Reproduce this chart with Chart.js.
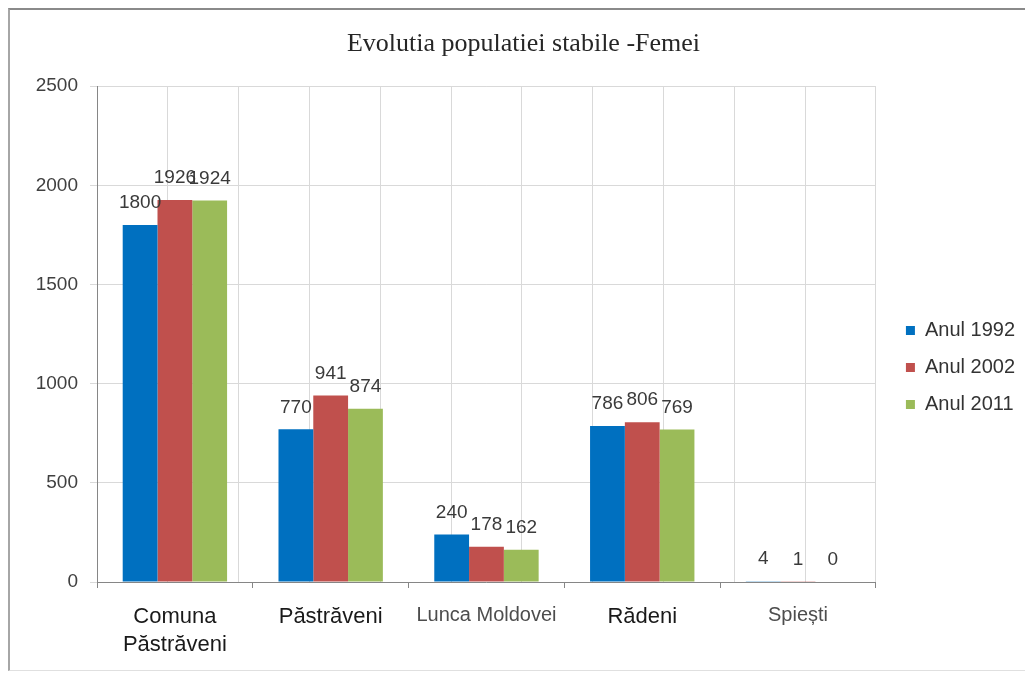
<!DOCTYPE html>
<html><head><meta charset="utf-8">
<script src="https://cdn.jsdelivr.net/npm/chart.js@4"></script>
<style>
html,body{margin:0;padding:0;background:#fff;width:1025px;height:673px;overflow:hidden}
#frame{position:absolute;left:8px;top:8px;width:1040px;height:660px;border-top:2px solid #8a8a8a;border-left:2px solid #a6a6a6;border-bottom:1px solid #e0e0e0}
canvas{position:absolute;left:0;top:0}
</style></head><body>
<div id="frame"></div>
<canvas id="c" width="1025" height="673"></canvas>
<script>
const categories = [["Comuna","Păstrăveni"],"Păstrăveni","Lunca Moldovei","Rădeni","Spiești"];
const seriesNames = ["Anul 1992","Anul 2002","Anul 2011"];
const values1992 = [1800,770,240,786,4];
const values2002 = [1926,941,178,806,1];
const values2011 = [1924,874,162,769,0];
const yTicks = [0,500,1000,1500,2000,2500];
const colors = ['#0070C0','#C0504D','#9BBB59'];

const valueLabels = {
  id:'valueLabels',
  afterDatasetsDraw(chart){
    const ctx = chart.ctx;
    ctx.save();
    ctx.font = '19px "Liberation Sans"';
    ctx.fillStyle = '#3a3a3a';
    ctx.textAlign = 'center';
    ctx.textBaseline = 'middle';
    chart.data.datasets.forEach((ds,i)=>{
      chart.getDatasetMeta(i).data.forEach((bar,j)=>{
        ctx.fillText(String(ds.data[j]), bar.x, bar.y - 22);
      });
    });
    ctx.restore();
  }
};
const legendShift = {
  id:'legendShift',
  afterLayout(chart){
    const l = chart.legend; const dx = 13, dy = 31;
    l.left += dx; l.right += dx; l.top += dy; l.bottom += dy;
  }
};

new Chart(document.getElementById('c'), {
  type:'bar',
  data:{
    labels: categories,
    datasets: [values1992, values2002, values2011].map((d,i)=>({
      label: seriesNames[i], data: d, backgroundColor: colors[i], borderWidth: 0,
      categoryPercentage: 0.67, barPercentage: 1
    }))
  },
  options:{
    responsive:false, animation:false,
    layout:{padding:{left:35,right:13,top:0,bottom:0}},
    plugins:{
      title:{display:true,text:'Evolutia populatiei stabile -Femei',color:'#262626',
        font:{family:'Liberation Serif',size:26,weight:'normal'},padding:{top:29,bottom:26}},
      legend:{position:'right',
        labels:{boxWidth:9,boxHeight:9,padding:17,color:'#333',font:{family:'Liberation Sans',size:20}}},
      tooltip:{enabled:false}
    },
    scales:{
      x:{position:'bottom',
        grid:{display:true,drawOnChartArea:false,offset:true,tickLength:6,color:'#868686'},
        border:{color:'#868686'},
        ticks:{padding:15,
          color: c => (c.index===2||c.index===4) ? '#4d4d4d' : '#1a1a1a',
          font: c => (c.index===2||c.index===4) ? {family:'Liberation Sans',size:20,lineHeight:1.28} : {family:'Liberation Sans',size:22,lineHeight:1.28}},
        afterFit(s){ s.height = 91; }
      },
      xg:{type:'linear',position:'bottom',min:0,max:10,
        ticks:{display:false,stepSize:1},
        grid:{color:'#d9d9d9',drawTicks:false},
        border:{display:false},
        afterFit(s){ s.height = 0; }
      },
      y:{min:0,max:2500,
        afterBuildTicks(s){ s.ticks = yTicks.map(v=>({value:v})); },
        grid:{color:'#d9d9d9',tickLength:7},
        border:{color:'#868686'},
        ticks:{padding:12,color:'#404040',font:{family:'Liberation Sans',size:19},
          callback: v => String(v)},
        afterFit(s){ s.width = 62; }
      }
    }
  },
  plugins:[valueLabels, legendShift]
});
</script>
</body></html>
